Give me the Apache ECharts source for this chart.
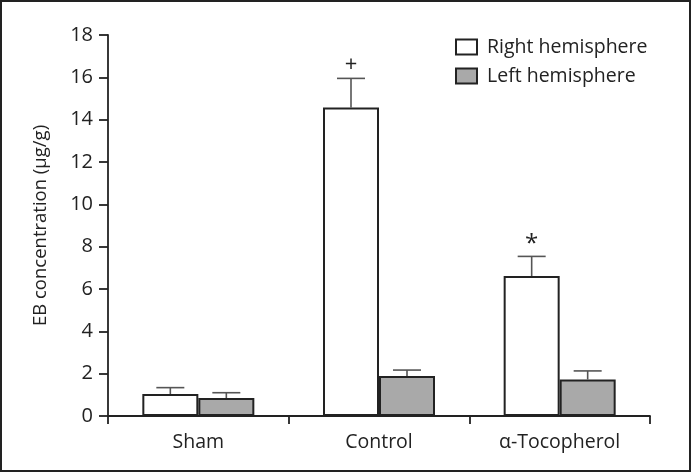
<!DOCTYPE html>
<html>
<head>
<meta charset="utf-8">
<script src="https://cdn.jsdelivr.net/npm/echarts@6/dist/echarts.min.js"></script>
<style>
html,body{margin:0;padding:0;background:#fff;}
#c{width:692px;height:473px;}
</style>
</head>
<body>
<div id="c"></div>
<script>
var categories = ['Sham', 'Control', 'α-Tocopherol'];
var rightValues = [1.04, 14.58, 6.61];
var rightErrTop = [1.34, 15.95, 7.54];
var leftValues = [0.85, 1.89, 1.73];
var leftErrTop = [1.1, 2.17, 2.13];
var rightMarks = ['', '+', '*'];
var yTicks = {min: 0, max: 18, interval: 2};

var FONT = '"Open Sans", "Noto Sans", sans-serif';
var INK = '#222';

function errData(vals, tops, side) {
  return vals.map(function (v, i) {
    return [i, tops[i], v, side];
  });
}

function renderErr(params, api) {
  var i = api.value(0);
  var top = api.value(1);
  var base = api.value(2);
  var side = api.value(3);
  var pTop = api.coord([i, top]);
  var pBase = api.coord([i, base]);
  var x = pTop[0] + side * 28;
  return {type: 'group', children: [
    {type: 'line', shape: {x1: x, y1: pBase[1], x2: x, y2: pTop[1]}, style: {stroke: '#555', lineWidth: 1.6}},
    {type: 'line', shape: {x1: x - 14, y1: pTop[1], x2: x + 14, y2: pTop[1]}, style: {stroke: '#555', lineWidth: 1.6}}
  ]};
}

function markText(marks, tops) {
  return marks.map(function (m, i) { return [i, tops[i]]; }).filter(function (d) { return marks[d[0]]; });
}

var chart = echarts.init(document.getElementById('c'));

chart.setOption({
  backgroundColor: '#fff',
  animation: false,
  graphic: [{
    type: 'rect',
    shape: {x: 1, y: 1, width: 689, height: 470},
    style: {fill: 'none', stroke: INK, lineWidth: 2},
    silent: true
  }],
  grid: {left: 108, right: 42, top: 35, bottom: 57},
  legend: {
    orient: 'vertical',
    left: 450,
    top: 32,
    itemWidth: 21,
    itemHeight: 15,
    itemGap: 9,
    textStyle: {fontFamily: FONT, fontSize: 19.5, color: INK, padding: [0, 0, 0, 5]},
    data: [{name: 'Right hemisphere', icon: 'rect'}, {name: 'Left hemisphere', icon: 'rect'}]
  },
  xAxis: {
    type: 'category',
    data: categories,
    axisLine: {lineStyle: {color: INK, width: 1.8}},
    axisTick: {show: true, length: 8, lineStyle: {color: INK, width: 1.8}},
    axisLabel: {fontFamily: FONT, fontSize: 19.5, color: INK, margin: 16}
  },
  yAxis: {
    type: 'value',
    min: yTicks.min,
    max: yTicks.max,
    interval: yTicks.interval,
    name: 'EB concentration (μg/g)',
    nameLocation: 'middle',
    nameGap: 58,
    nameTextStyle: {fontFamily: FONT, fontSize: 18.5, color: INK},
    axisLine: {show: true, lineStyle: {color: INK, width: 1.8}},
    axisTick: {show: true, length: 9, lineStyle: {color: INK, width: 1.8}},
    axisLabel: {fontFamily: FONT, fontSize: 20, color: INK, margin: 15},
    splitLine: {show: false}
  },
  series: [
    {
      name: 'Right hemisphere',
      type: 'bar',
      data: rightValues,
      barWidth: 56,
      barGap: '0%',
      itemStyle: {color: '#fff', borderColor: INK, borderWidth: 2}
    },
    {
      name: 'Left hemisphere',
      type: 'bar',
      data: leftValues,
      barWidth: 56,
      barGap: '0%',
      itemStyle: {color: '#a9a9a9', borderColor: INK, borderWidth: 2}
    },
    {
      type: 'custom',
      name: 'errR',
      data: errData(rightValues, rightErrTop, -1),
      encode: {x: 0, y: 1},
      renderItem: renderErr,
      z: 1
    },
    {
      type: 'custom',
      name: 'errL',
      data: errData(leftValues, leftErrTop, 1),
      encode: {x: 0, y: 1},
      renderItem: renderErr,
      z: 1
    },
    {
      type: 'custom',
      name: 'marks',
      data: markText(rightMarks, rightErrTop),
      encode: {x: 0, y: 1},
      renderItem: function (p, api) {
        var pt = api.coord([api.value(0), api.value(1)]);
        var m = rightMarks[api.value(0)];
        var isStar = m === '*';
        return {
          type: 'text',
          style: {
            text: m,
            x: pt[0] - 28,
            y: pt[1] - (isStar ? 0 : 3),
            align: 'center',
            verticalAlign: 'bottom',
            font: (isStar ? '24px ' : '22px ') + FONT,
            fill: INK
          }
        };
      }
    }
  ]
});
</script>
</body>
</html>
